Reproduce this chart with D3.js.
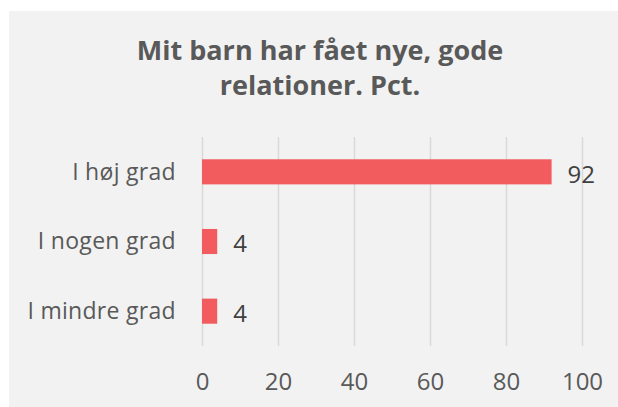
<!DOCTYPE html>
<html>
<head>
<meta charset="utf-8">
<script src="https://cdn.jsdelivr.net/npm/d3@7"></script>
<style>
  body { margin: 0; background: #fff; }
  text { font-family: "Open Sans", sans-serif; }
</style>
</head>
<body>
<div id="chart"></div>
<script>
const categories = ["I høj grad", "I nogen grad", "I mindre grad"];
const values = [92, 4, 4];
const xTicks = [0, 20, 40, 60, 80, 100];
const titleLines = ["Mit barn har fået nye, gode", "relationer. Pct."];

const width = 618, height = 407;
const plot = { left: 202, right: 582, top: 137, bottom: 346 };

const svg = d3.select("#chart").append("svg")
  .attr("width", width)
  .attr("height", height);

// chart area background
svg.append("rect")
  .attr("x", 9).attr("y", 11)
  .attr("width", width - 9).attr("height", height - 11)
  .attr("fill", "#F2F2F2");

// title
svg.append("g")
  .selectAll("text")
  .data(titleLines)
  .join("text")
  .attr("x", 320)
  .attr("y", (d, i) => 60 + i * 35)
  .attr("text-anchor", "middle")
  .attr("font-size", 27)
  .attr("font-weight", "bold")
  .attr("fill", "#595959")
  .text((d) => d);

const x = d3.scaleLinear().domain([0, 100]).range([plot.left, plot.right]);
const y = d3.scaleBand()
  .domain(categories)
  .range([plot.top, plot.bottom])
  .paddingInner(0.64)
  .paddingOuter(0.32);

// gridlines
const grid = svg.append("g")
  .attr("transform", `translate(0,${plot.bottom})`)
  .call(d3.axisBottom(x).tickValues(xTicks).tickSize(-(plot.bottom - plot.top)).tickFormat(""));
grid.select(".domain").remove();
grid.selectAll("line").attr("stroke", "#D9D9D9").attr("stroke-width", 1.5);

// x tick labels
const xAxis = svg.append("g")
  .attr("transform", `translate(0,${plot.bottom})`)
  .call(d3.axisBottom(x).tickValues(xTicks).tickSize(0).tickPadding(27));
xAxis.select(".domain").remove();
xAxis.selectAll("text")
  .attr("font-family", "Open Sans, sans-serif")
  .attr("font-size", 24)
  .attr("fill", "#595959");

// category labels
svg.append("g")
  .selectAll("text")
  .data(categories)
  .join("text")
  .attr("x", 176)
  .attr("y", (d) => y(d) + y.bandwidth() / 2)
  .attr("dy", "0.34em")
  .attr("text-anchor", "end")
  .attr("font-size", 23)
  .attr("letter-spacing", 0.3)
  .attr("fill", "#595959")
  .text((d) => d);

// bars
svg.append("g")
  .selectAll("rect")
  .data(values)
  .join("rect")
  .attr("x", x(0))
  .attr("y", (d, i) => y(categories[i]))
  .attr("width", (d) => x(d) - x(0))
  .attr("height", y.bandwidth())
  .attr("fill", "#F25C5F");

// value labels
svg.append("g")
  .selectAll("text")
  .data(values)
  .join("text")
  .attr("x", (d) => x(d) + 16)
  .attr("y", (d, i) => y(categories[i]) + y.bandwidth() / 2)
  .attr("dy", "0.45em")
  .attr("font-size", 24)
  .attr("fill", "#404040")
  .text((d) => d);
</script>
</body>
</html>
